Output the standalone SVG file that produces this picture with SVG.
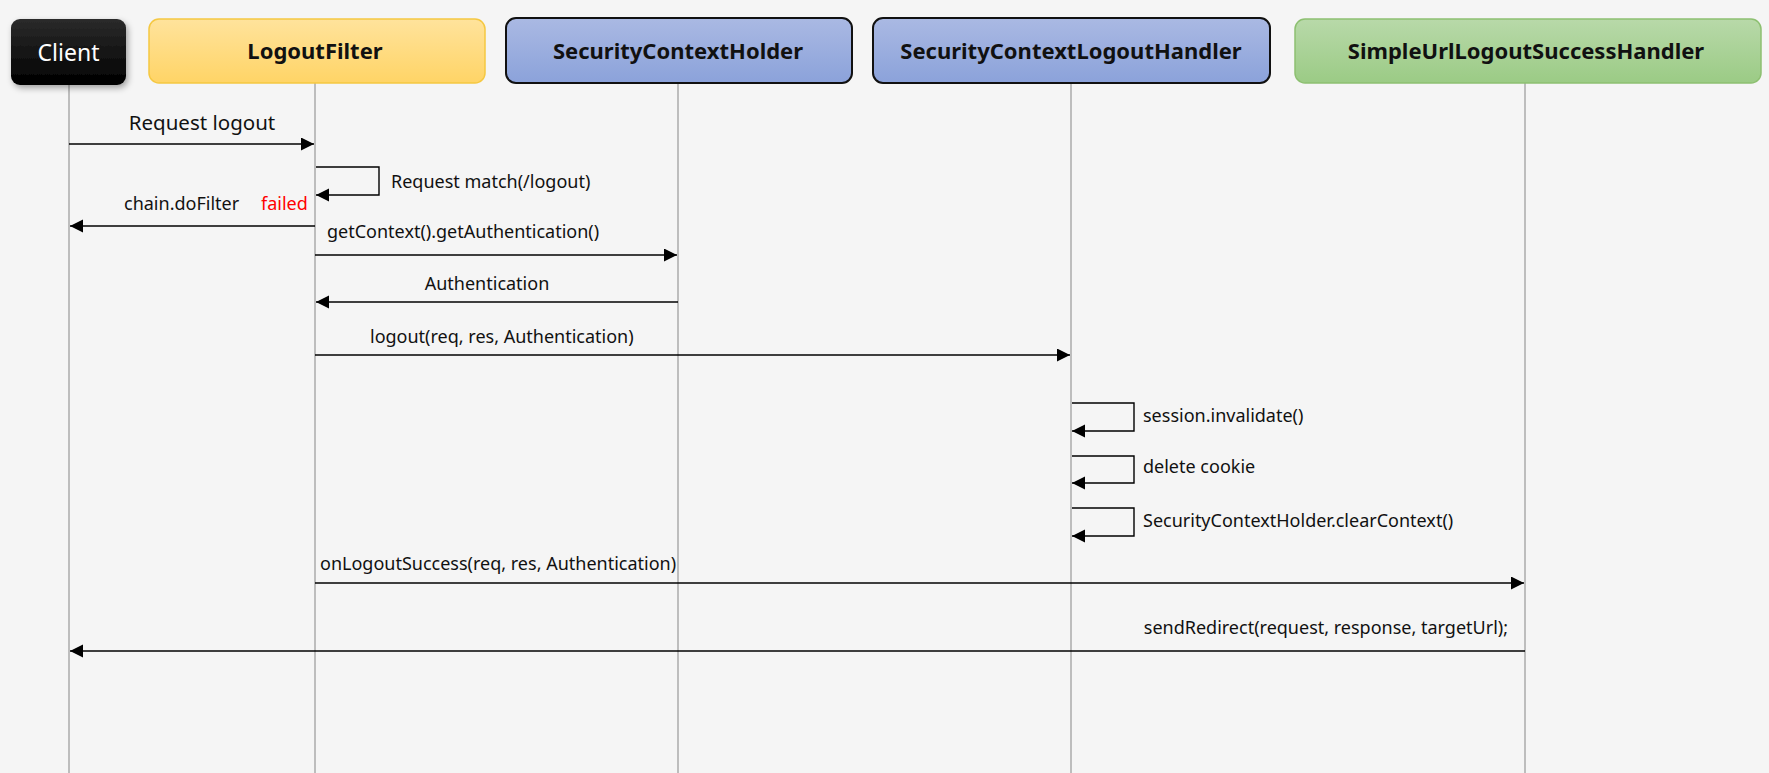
<svg xmlns="http://www.w3.org/2000/svg" width="1769" height="773" viewBox="0 0 1769 773">
<defs>
<linearGradient id="gBlack" x1="0" y1="0" x2="0" y2="1"><stop offset="0" stop-color="#2b2b2b"/><stop offset="1" stop-color="#000"/></linearGradient>
<linearGradient id="gYellow" x1="0" y1="0" x2="0" y2="1"><stop offset="0" stop-color="#FFE39C"/><stop offset="1" stop-color="#FFD466"/></linearGradient>
<linearGradient id="gBlue" x1="0" y1="0" x2="0" y2="1"><stop offset="0" stop-color="#AAB9E3"/><stop offset="1" stop-color="#8BA2DA"/></linearGradient>
<linearGradient id="gGreen" x1="0" y1="0" x2="0" y2="1"><stop offset="0" stop-color="#B8D9A9"/><stop offset="1" stop-color="#9BCB85"/></linearGradient>
<filter id="shadow" x="-20%" y="-20%" width="150%" height="160%"><feDropShadow dx="2" dy="3" stdDeviation="3" flood-color="#000" flood-opacity="0.35"/></filter>
<marker id="arr" markerWidth="14" markerHeight="14" refX="13" refY="6.5" orient="auto" markerUnits="userSpaceOnUse"><path d="M0,0 L13,6.5 L0,13 Z" fill="#000"/></marker>
</defs>
<style>
.life{stroke:#BDBDBD;stroke-width:2;fill:none}
.msg{stroke:#000;stroke-width:1.4;fill:none;marker-end:url(#arr)}
.lbl{font-family:"Noto Sans","Open Sans",sans-serif;font-size:18px;fill:#111}
.title{font-family:"Noto Sans","Open Sans",sans-serif;font-size:22px;font-weight:bold;fill:#111;text-anchor:middle}
</style>
<rect x="0" y="0" width="1769" height="773" fill="#F5F5F5"/>

<g id="lifelines">
<line class="life" x1="69" y1="85" x2="69" y2="773"/>
<line class="life" x1="315" y1="83" x2="315" y2="773"/>
<line class="life" x1="678" y1="83" x2="678" y2="773"/>
<line class="life" x1="1071" y1="83" x2="1071" y2="773"/>
<line class="life" x1="1525" y1="83" x2="1525" y2="773"/>
</g>

<g id="client">
<rect x="11" y="19" width="115" height="66" rx="9" fill="url(#gBlack)" filter="url(#shadow)"/>
<text x="68.5" y="61" text-anchor="middle" font-family="'Noto Sans','Open Sans',sans-serif" font-size="23" fill="#fff">Client</text>
</g>
<g id="logoutFilter">
<rect x="149" y="19" width="336" height="64" rx="10" fill="url(#gYellow)" stroke="#F5C842" stroke-width="1.5"/>
<text class="title" x="315" y="59">LogoutFilter</text>
</g>
<g id="securityContextHolder">
<rect x="506" y="18" width="346" height="65" rx="10" fill="url(#gBlue)" stroke="#111" stroke-width="2"/>
<text class="title" x="678" y="59">SecurityContextHolder</text>
</g>
<g id="securityContextLogoutHandler">
<rect x="873" y="18" width="397" height="65" rx="10" fill="url(#gBlue)" stroke="#111" stroke-width="2"/>
<text class="title" x="1071" y="59">SecurityContextLogoutHandler</text>
</g>
<g id="simpleUrlLogoutSuccessHandler">
<rect x="1295" y="19" width="466" height="64" rx="10" fill="url(#gGreen)" stroke="#8DC071" stroke-width="1.5"/>
<text class="title" x="1526" y="59">SimpleUrlLogoutSuccessHandler</text>
</g>

<g id="connectors">
<line class="msg" x1="69" y1="144" x2="314" y2="144"/>
<path class="msg" d="M316,167 H379 V195 H316"/>
<line class="msg" x1="315" y1="226" x2="70" y2="226"/>
<line class="msg" x1="315" y1="255" x2="677" y2="255"/>
<line class="msg" x1="678" y1="302" x2="316" y2="302"/>
<line class="msg" x1="315" y1="355" x2="1070" y2="355"/>
<path class="msg" d="M1072,403 H1134 V431 H1072"/>
<path class="msg" d="M1072,456 H1134 V483 H1072"/>
<path class="msg" d="M1072,508 H1134 V536 H1072"/>
<line class="msg" x1="315" y1="583" x2="1524" y2="583"/>
<line class="msg" x1="1525" y1="651" x2="70" y2="651"/>
</g>

<g id="labels">
<text class="lbl" x="202" y="130" text-anchor="middle" style="font-size:20.5px">Request logout</text>
<text class="lbl" x="391" y="188">Request match(/logout)</text>
<text class="lbl" x="124" y="210">chain.doFilter</text>
<text class="lbl" x="261" y="210" style="fill:#FF0000">failed</text>
<text class="lbl" x="327" y="238">getContext().getAuthentication()</text>
<text class="lbl" x="487" y="290" text-anchor="middle">Authentication</text>
<text class="lbl" x="370" y="343">logout(req, res, Authentication)</text>
<text class="lbl" x="1143" y="422">session.invalidate()</text>
<text class="lbl" x="1143" y="473">delete cookie</text>
<text class="lbl" x="1143" y="527">SecurityContextHolder.clearContext()</text>
<text class="lbl" x="320" y="570">onLogoutSuccess(req, res, Authentication)</text>
<text class="lbl" x="1508" y="634" text-anchor="end">sendRedirect(request, response, targetUrl);</text>
</g>
</svg>
